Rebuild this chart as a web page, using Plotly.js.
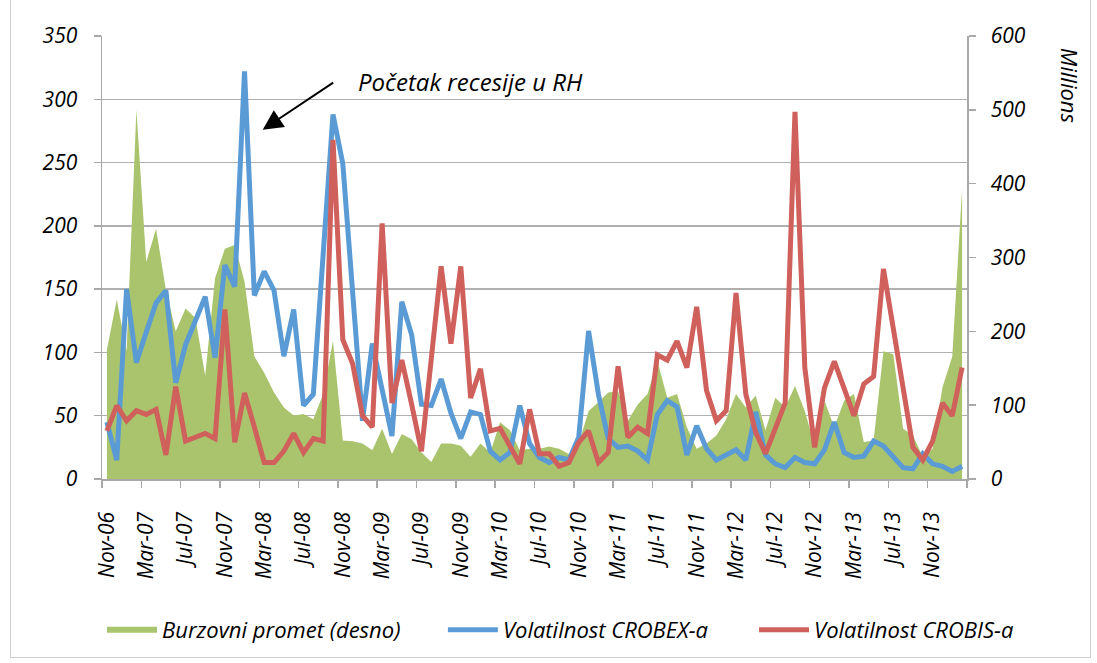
<!DOCTYPE html>
<html><head><meta charset="utf-8">
<script src="https://cdn.plot.ly/plotly-3.0.1.min.js"></script>
<style>
html,body{margin:0;padding:0;background:#fff;}
#wrap{position:relative;width:1097px;height:663px;overflow:hidden;}
#chart{width:1097px;height:663px;}
#frame{position:absolute;left:10px;top:-5px;width:1079px;height:661px;border:1.5px solid #cfcfcf;pointer-events:none;}
</style>
</head><body>
<div id="wrap"><div id="chart"></div><div id="frame"></div></div>
<script>
const months = [
 'Nov-06','Dec-06',
 'Jan-07','Feb-07','Mar-07','Apr-07','May-07','Jun-07','Jul-07','Aug-07','Sep-07','Oct-07','Nov-07','Dec-07',
 'Jan-08','Feb-08','Mar-08','Apr-08','May-08','Jun-08','Jul-08','Aug-08','Sep-08','Oct-08','Nov-08','Dec-08',
 'Jan-09','Feb-09','Mar-09','Apr-09','May-09','Jun-09','Jul-09','Aug-09','Sep-09','Oct-09','Nov-09','Dec-09',
 'Jan-10','Feb-10','Mar-10','Apr-10','May-10','Jun-10','Jul-10','Aug-10','Sep-10','Oct-10','Nov-10','Dec-10',
 'Jan-11','Feb-11','Mar-11','Apr-11','May-11','Jun-11','Jul-11','Aug-11','Sep-11','Oct-11','Nov-11','Dec-11',
 'Jan-12','Feb-12','Mar-12','Apr-12','May-12','Jun-12','Jul-12','Aug-12','Sep-12','Oct-12','Nov-12','Dec-12',
 'Jan-13','Feb-13','Mar-13','Apr-13','May-13','Jun-13','Jul-13','Aug-13','Sep-13','Oct-13','Nov-13','Dec-13',
 'Jan-14','Feb-14'
];

// Burzovni promet (desno), millions
const burzovniPromet = [
 175,243,
 173,500,294,339,256,200,231,218,140,272,312,317,
 267,166,144,117,97,86,88,81,115,187,52,51,
 48,39,68,34,61,54,36,23,48,48,45,30,
 48,36,77,66,39,41,41,44,41,34,48,92,
 104,117,119,79,101,115,160,110,115,70,41,48,
 59,81,115,97,113,66,110,97,126,92,45,106,
 70,106,115,50,52,173,169,68,59,30,41,124,
 166,393
];

// Volatilnost CROBEX-a (left axis)
const crobex = [
 45,15,
 150,92,116,139,149,76,106,126,144,96,169,152,
 322,145,164,149,97,134,58,67,178,288,249,148,
 46,107,72,34,140,114,59,58,79,52,32,53,
 51,22,15,21,58,28,17,13,17,15,33,117,
 67,32,25,26,22,15,51,62,57,19,42,24,
 15,19,23,15,53,19,12,9,17,13,12,23,
 45,21,17,18,30,26,17,9,8,20,12,10,
 6,10
];

// Volatilnost CROBIS-a (left axis)
const crobis = [
 38,58,
 46,54,51,55,19,73,30,33,36,32,134,29,
 68,41,13,13,22,36,21,32,30,268,110,91,
 50,41,202,60,94,59,22,95,168,107,168,64,
 87,38,40,26,12,55,20,20,10,13,29,38,
 13,21,89,33,41,36,98,94,109,88,136,70,
 46,54,147,67,37,20,41,60,290,88,25,72,
 93,70,50,75,81,166,118,70,25,15,30,60,
 50,88
];

const seriesNames = ['Burzovni promet (desno)','Volatilnost CROBEX-a','Volatilnost CROBIS-a'];
const colors = {green:'#a9c46c', blue:'#5b9bd5', red:'#d0605b'};

const idx = months.map((m,i)=>i);
const tickvals = idx.filter(i => i % 4 === 0);
const ticktext = tickvals.map(i => months[i]);
const bounds = [];
for (let i = 0; i <= months.length; i += 4) bounds.push(i - 0.5);

const axisGray = '#a8a8a8';
const fam = '"Open Sans", Lato, sans-serif';
const tf = {family:fam, size:21, color:'#000', style:'italic'};
const lf = {family:fam, size:22, color:'#000', style:'italic'};

const traces = [
 {x:idx, y:burzovniPromet, type:'scatter', mode:'none', fill:'tozeroy', fillcolor:colors.green,
  name:seriesNames[0], yaxis:'y', hoverinfo:'skip', legend:'legend'},
 {x:idx, y:crobex, type:'scatter', mode:'lines', line:{color:colors.blue, width:5},
  name:seriesNames[1], yaxis:'y2', legend:'legend2'},
 {x:idx, y:crobis, type:'scatter', mode:'lines', line:{color:colors.red, width:5},
  name:seriesNames[2], yaxis:'y2', legend:'legend3'}
];

const legBase = {orientation:'h', xanchor:'left', y:-0.341, yanchor:'middle', font:lf,
  bgcolor:'rgba(0,0,0,0)', itemwidth:50};

const layout = {
 width:1097, height:663,
 margin:{l:102, r:130, t:36, b:181, pad:0},
 paper_bgcolor:'#fff', plot_bgcolor:'#fff',
 font:tf,
 showlegend:true,
 legend:Object.assign({}, legBase, {x:0.0}),
 legend2:Object.assign({}, legBase, {x:0.3941}),
 legend3:Object.assign({}, legBase, {x:0.7538}),
 xaxis:{range:[-0.5, months.length-0.5], tickmode:'array', tickvals:tickvals, ticktext:ticktext,
   tickangle:-90, ticks:'', showgrid:false, showline:true, linecolor:axisGray, linewidth:1.5,
   zeroline:false, tickfont:tf, ticklabelstandoff:23,
   minor:{tickmode:'array', tickvals:bounds, ticks:'outside', ticklen:7, tickcolor:axisGray, tickwidth:1.5, showgrid:false}},
 yaxis:{range:[0,600], side:'right', tickmode:'linear', tick0:0, dtick:100, showgrid:false,
   showline:true, linecolor:axisGray, linewidth:1.5, ticks:'outside', ticklen:7, tickcolor:axisGray, tickwidth:1.5,
   zeroline:false, tickfont:tf, ticklabelstandoff:11},
 yaxis2:{range:[0,350], overlaying:'y', side:'left', tickmode:'linear', tick0:0, dtick:50,
   showgrid:true, gridcolor:'#b0b0b0', gridwidth:1.5,
   showline:true, linecolor:axisGray, linewidth:1.5, ticks:'outside', ticklen:7, tickcolor:axisGray, tickwidth:1.5,
   zeroline:false, tickfont:tf, ticklabelstandoff:12},
 annotations:[
  {text:'Početak recesije u RH', x:25.3, xref:'x', y:314, yref:'y2', xanchor:'left', yanchor:'middle',
   showarrow:false, font:{family:fam, size:24, color:'#000', style:'italic'}},
  {text:'', x:15.85, xref:'x', y:276, yref:'y2', ax:72, ay:-48, showarrow:true,
   arrowhead:2, arrowsize:2, arrowwidth:2, arrowcolor:'#000'},
  {text:'Millions', xref:'paper', yref:'paper', x:1.12, y:0.888, textangle:90, showarrow:false,
   xanchor:'center', yanchor:'middle', font:lf}
 ]
};

Plotly.newPlot('chart', traces, layout, {displayModeBar:false, staticPlot:true});
</script>
</body></html>
